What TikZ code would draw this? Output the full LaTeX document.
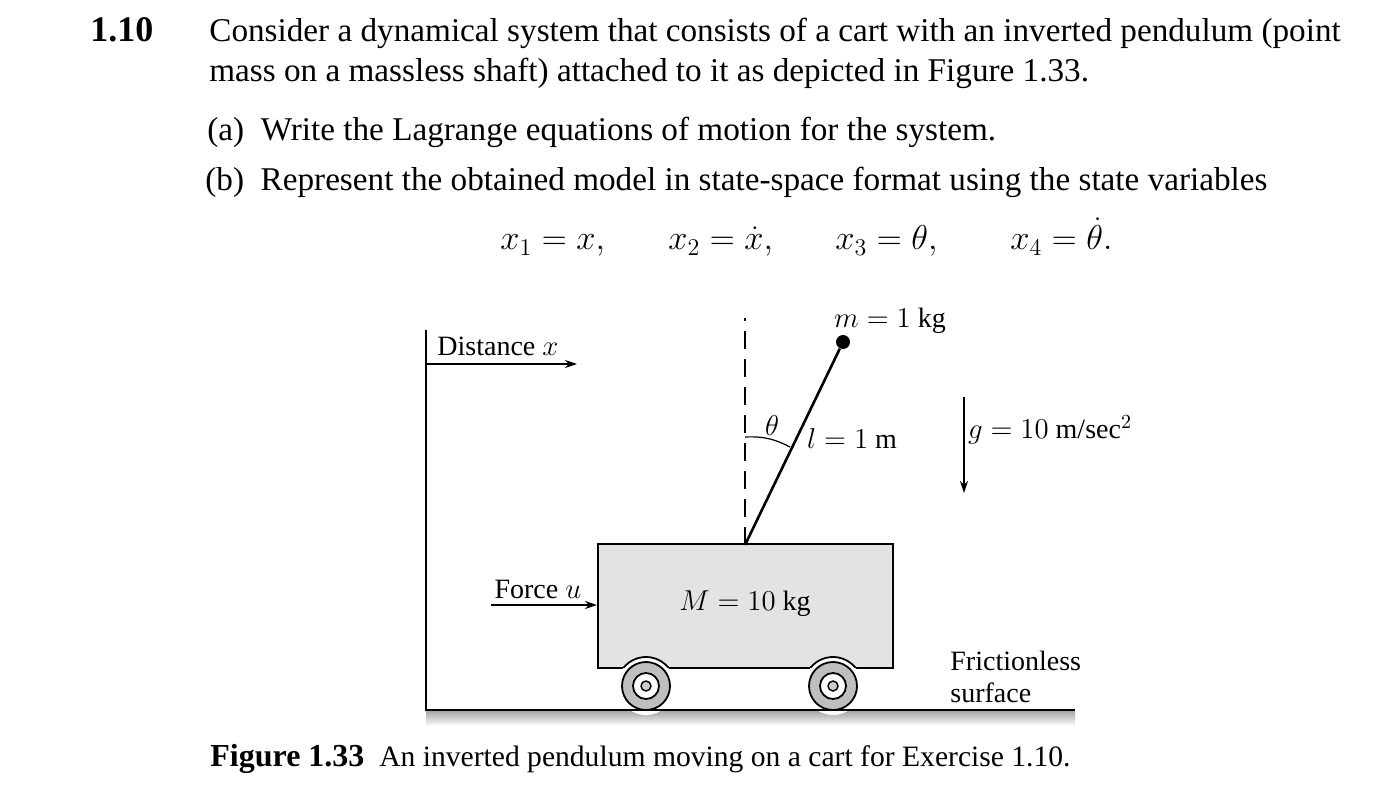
\documentclass[tikz,border=0pt]{standalone}
\usepackage{fontspec}
\setmainfont{Liberation Serif}
\usetikzlibrary{arrows.meta}
\begin{document}
\begin{tikzpicture}[x=0.5pt,y=-0.5pt,
  txt/.style={inner sep=0pt,font=\fontsize{16.6}{19}\selectfont},
  ftxt/.style={inner sep=0pt,font=\fontsize{14}{17}\selectfont},
  arr/.style={-{Stealth[length=6pt,width=4pt]},line width=0.8pt}]
\useasboundingbox (0,0) rectangle (1396,796);
% header text
\node[txt,anchor=base west,font=\fontsize{18}{19}\selectfont\bfseries] (num) at (90,42) {1.10};
\node[txt,anchor=base west] (l1) at (209,42) {Consider a dynamical system that consists of a cart with an inverted pendulum (point};
\node[txt,anchor=base west] (l2) at (209,82) {mass on a massless shaft) attached to it as depicted in Figure 1.33.};
\node[txt,anchor=base west] (la) at (207,141) {(a)\ \ Write the Lagrange equations of motion for the system.};
\node[txt,anchor=base west] (lb) at (205,191) {(b)\ \ Represent the obtained model in state-space format using the state variables};
\node[txt,anchor=base west] (e1) at (500,250) {$x_1=x,$};
\node[txt,anchor=base west] (e2) at (668,250) {$x_2=\dot x,$};
\node[txt,anchor=base west] (e3) at (835,250) {$x_3=\theta,$};
\node[txt,anchor=base west] (e4) at (1010,250) {$x_4=\dot\theta.$};
% figure
\shade[top color=gray!70,bottom color=white] (426,711) rectangle (1075,726);
\draw[line width=1.2pt] (426,330) -- (426,710) -- (1075,710);
\coordinate (w) at (426,364);
\coordinate (we) at (577,364);
\draw[arr] (w) -- (we);
\node[ftxt,anchor=base west] (dist) at (437,356) {Distance $x$};
% cart
\draw[fill=gray!22,line width=0.9pt] (598,544) rectangle (893,668);
\foreach \c in {646,833}{
  \fill[white] (\c,686) ++(-140:29) arc[start angle=-140,end angle=-40,radius=29] -- cycle;
  \fill[white] (\c,686) circle[radius=29];
  \draw[line width=0.9pt] (\c,686) ++(-141:29) arc[start angle=-141,end angle=-39,radius=29];
  \draw[line width=0.9pt,fill=gray!50] (\c,686) circle[radius=24];
  \draw[line width=0.9pt,fill=white] (\c,686) circle[radius=13];
  \draw[line width=0.7pt,fill=gray!40] (\c,686) circle[radius=5];
}
\draw[line width=1.2pt] (426,710) -- (1075,710);
\node[ftxt] (M) at (745,604) {$M=10$ kg};
% pendulum
\coordinate (piv) at (745,545);
\coordinate (top) at (745,318);
\draw[dashed,dash pattern=on 9pt off 5pt,line width=0.7pt] (piv) -- (top);
\node[circle,fill=black,inner sep=0pt,minimum size=7pt] (mass) at (843,342) {};
\draw[line width=1.3pt] (piv) -- (mass);
\draw[line width=0.6pt] (745,437) to[bend left=15] (790,447);
\node[ftxt] (th) at (772,425) {$\theta$};
\node[ftxt] (ll) at (852,438) {$l=1$ m};
\node[ftxt] (m) at (890,321) {$m=1$ kg};
% gravity
\coordinate (g1) at (964,397);
\coordinate (g2) at (964,493);
\draw[arr,line width=1pt] (g1) -- (g2);
\node[ftxt] (g) at (1050,430) {$g=10$ m/sec$^2$};
% force
\coordinate (f1) at (491,605);
\coordinate (f2) at (597,605);
\draw[arr,line width=1.2pt] (f1) -- (f2);
\node[ftxt] (fu) at (538,589) {Force $u$};
\node[ftxt,anchor=base west] (fr1) at (950,670) {Frictionless};
\node[ftxt,anchor=base west] (fr2) at (950,702) {surface};
% caption
\node[inner sep=0pt,font=\fontsize{14.8}{17}\selectfont,anchor=base west] (cap) at (210,766) {\textbf{\fontsize{16}{17}\selectfont Figure 1.33}\ \ An inverted pendulum moving on a cart for Exercise 1.10.};
\end{tikzpicture}
\end{document}
